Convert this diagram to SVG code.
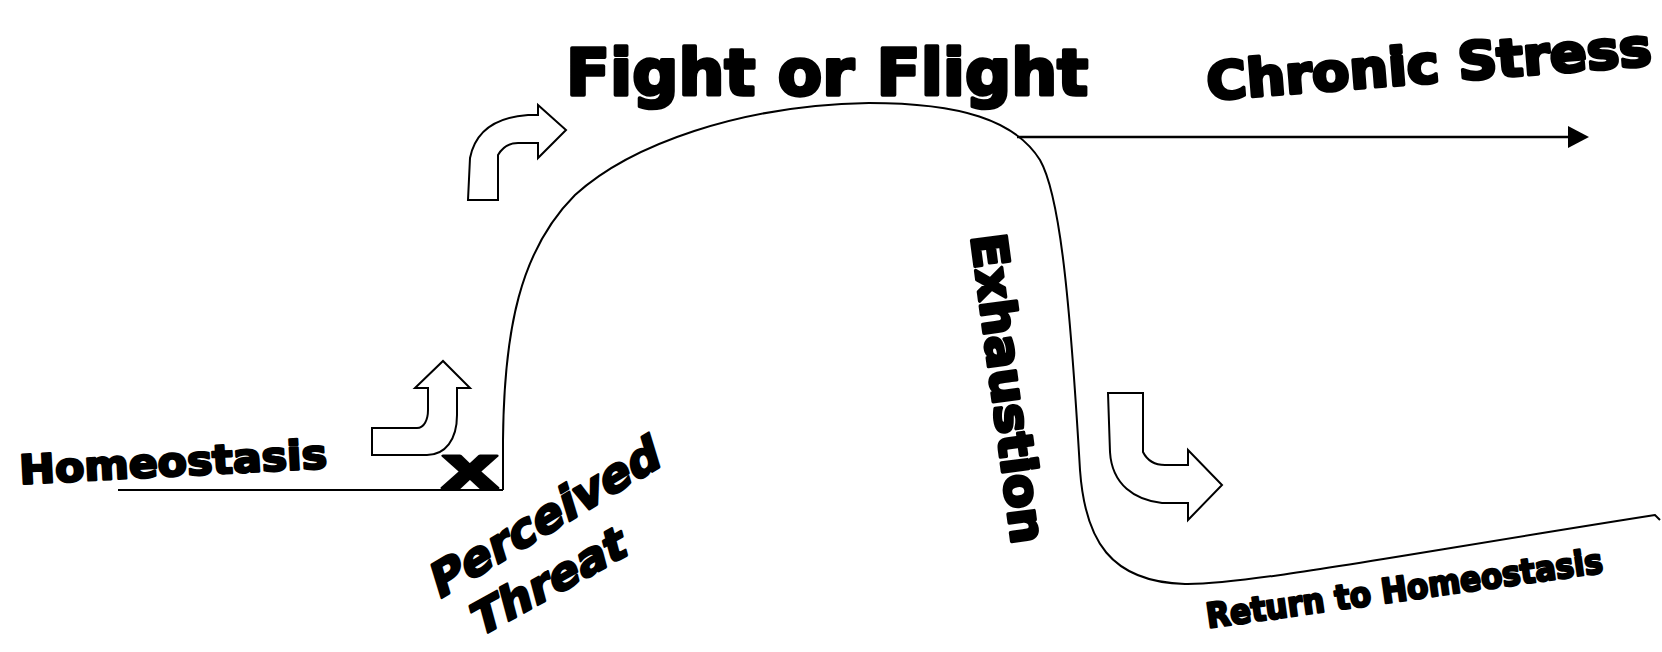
<svg xmlns="http://www.w3.org/2000/svg" width="1662" height="652" viewBox="0 0 1662 652">
<style>
.t{font-family:"DejaVu Sans","Liberation Sans",sans-serif;font-weight:bold;fill:#000;stroke:#000;stroke-width:2.5;stroke-linejoin:round}
.big{stroke-width:3.5}
.ln{fill:none;stroke:#000;stroke-width:2}
.ar{fill:#fff;stroke:#000;stroke-width:2;stroke-linejoin:miter}
</style>
<rect width="1662" height="652" fill="#fff"/>
<g id="connectors">
<path class="ln" d="M118,490 L503,490"/>
<path class="ln" d="M503,490 L503,440 C504,330 520,250 575,195 C630,145 740,105 869,103 C960,103 1015,120 1040,160 C1060,195 1070,300 1080,470 C1085,540 1110,582 1185,584 C1245,585 1400,555 1655,515 L1660,520"/>
<path d="M1017,137 L1570,137" stroke="#000" stroke-width="2.5" fill="none"/>
<path d="M1568,126 L1589,137 L1568,148 Z" fill="#000"/>
</g>
<g id="homeostasis"><text class="t" x="20" y="484" font-size="40" textLength="308" lengthAdjust="spacingAndGlyphs" transform="rotate(-3 20 484)">Homeostasis</text></g>
<g id="x-mark"><text class="t" x="441" y="488" font-size="58" textLength="58" lengthAdjust="spacingAndGlyphs">x</text></g>
<g id="arrow-up"><path class="ar" d="M372,455 L372,428 L417,428 C424,428 428,420 428,410 L428,388 L415,388 L443,361 L470,388 L457,388 L457,415 C457,440 445,455 427,455 Z"/></g>
<g id="arrow-upper"><path class="ar" d="M468,200 L498,200 L498,155 C502,148 508,143 518,143 L538,143 L538,158 L566,130 L538,105 L538,115 L528,115 C500,117 476,128 470,158 Z"/></g>
<g id="perceived-threat">
<text class="t" font-size="46" textLength="262" lengthAdjust="spacingAndGlyphs" transform="translate(438,600) rotate(-31) skewX(-14)">Perceived</text>
<text class="t" font-size="44" textLength="172" lengthAdjust="spacingAndGlyphs" transform="translate(478,638) rotate(-29) skewX(-14)">Threat</text>
</g>
<g id="fight-or-flight"><text class="t big" x="566" y="95" font-size="64" textLength="522" lengthAdjust="spacingAndGlyphs">Fight or Flight</text></g>
<g id="chronic-stress"><text class="t big" font-size="52" textLength="446" lengthAdjust="spacingAndGlyphs" transform="translate(1208,100) rotate(-4.5)">Chronic Stress</text></g>
<g id="exhaustion"><text class="t big" font-size="48" textLength="312" lengthAdjust="spacingAndGlyphs" transform="translate(971,236) rotate(82.4)">Exhaustion</text></g>
<g id="arrow-down"><path class="ar" d="M1108,393 L1143,393 L1143,452 C1147,460 1155,465 1165,465 L1188,465 L1188,450 L1222,485 L1188,520 L1188,503 L1162,503 C1135,500 1112,485 1110,452 Z"/></g>
<g id="return-homeostasis"><text class="t" font-size="34" textLength="400" lengthAdjust="spacingAndGlyphs" transform="translate(1208,628) rotate(-8)">Return to Homeostasis</text></g>
</svg>
